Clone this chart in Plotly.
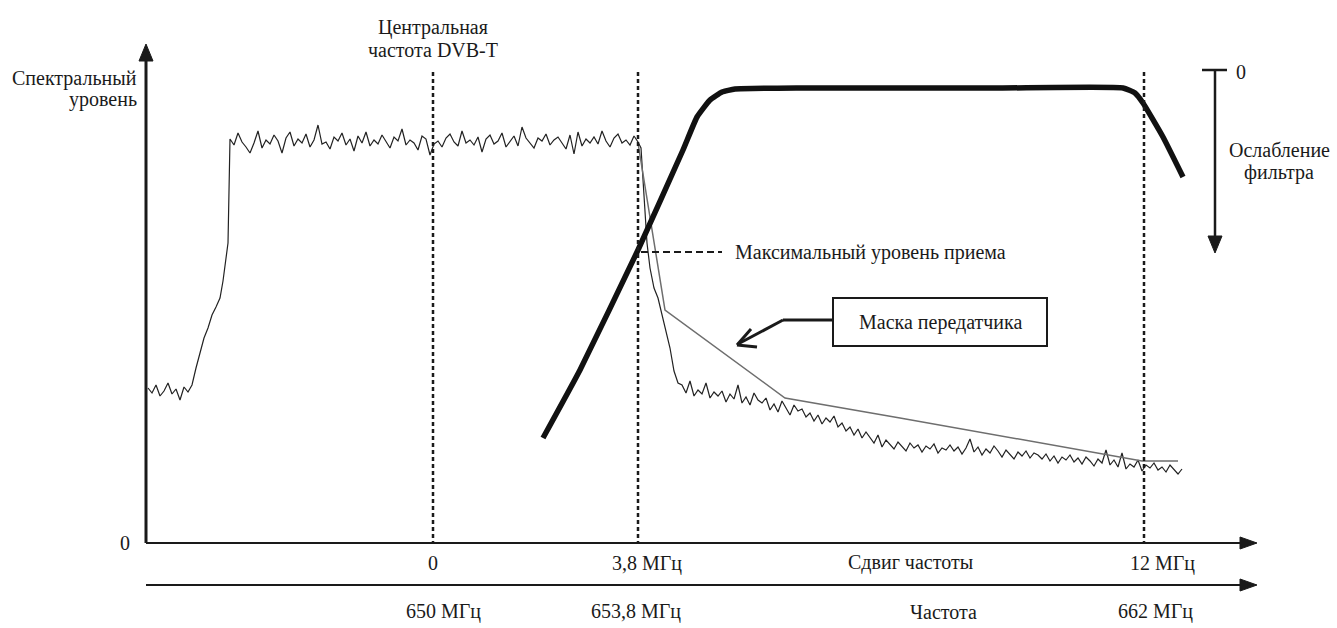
import plotly.graph_objects as go

# ---------------- data (chart units: x = frequency-offset scale, y = spectral level) -------------
# spectrum: low shoulder
spec_low_x = list(range(-285, -244, 4))
spec_low_y = [155, 150, 158, 147, 152, 160, 149, 154, 143, 156, 151]
# spectrum: rising edge
spec_rise_x = [-241, -237, -233, -229, -225, -221, -217, -213, -210, -207, -205]
spec_rise_y = [158, 175, 190, 205, 215, 228, 236, 245, 262, 285, 300]
# spectrum: flat in-band part
spec_flat_x = list(range(-203, 206, 4))
spec_flat_y = [404, 398, 410, 401, 396, 390, 400, 412, 395, 403,
               399, 408, 402, 390, 405, 411, 397, 404, 400, 409,
               396, 403, 418, 399, 401, 394, 406, 402, 410, 398,
               404, 392, 407, 400, 411, 397, 403, 399, 408, 401,
               395, 406, 402, 414, 398, 403, 400, 393, 407, 404,
               388, 399, 402, 396, 405, 409, 401, 397, 412, 400,
               403, 398, 406, 391, 404, 408, 399, 402, 410, 396,
               401, 407, 397, 416, 405, 400, 395, 405, 402, 409,
               398, 403, 406, 400, 394, 408, 389, 411, 397, 404,
               400, 406, 399, 412, 402, 396, 405, 409, 400, 403,
               398, 407, 401]
# spectrum: falling edge
spec_drop_x = [208, 211, 214, 217, 221, 225, 229, 233, 237, 241, 245]
spec_drop_y = [395, 350, 300, 275, 255, 245, 228, 212, 195, 172, 160]
# spectrum: out-of-band tail
spec_tail_x = list(range(249, 750, 4))
spec_tail_y = [158, 150, 162, 147, 153, 149, 160, 145, 151, 147,
               152, 141, 149, 144, 158, 140, 146, 138, 150, 143,
               140, 145, 133, 139, 131, 142, 135, 128, 138, 132,
               134, 126, 130, 122, 128, 119, 125, 121, 127, 116,
               120, 112, 116, 108, 114, 105, 111, 106, 100, 108,
               96, 103, 99, 94, 101, 97, 92, 100, 95, 98,
               91, 97, 94, 99, 90, 95, 93, 98, 92, 96,
               89, 95, 104, 91, 96, 88, 94, 90, 97, 92,
               86, 93, 89, 84, 91, 87, 92, 85, 90, 88,
               84, 89, 82, 87, 80, 86, 83, 88, 81, 85,
               79, 86, 82, 77, 84, 80, 93, 78, 83, 76,
               90, 74, 79, 76, 83, 72, 78, 75, 80, 73,
               76, 71, 78, 73, 69, 74]

# transmitter mask
mask_x = [205, 232, 352, 467, 709, 745]
mask_y = [400, 233, 145, 125, 82, 82]

# receive filter response
filter_x = [110, 147, 205, 250, 264, 277, 289, 302, 367, 567, 690, 702, 710, 730, 750]
filter_y = [105, 173, 293, 393, 426, 443, 451, 454, 455, 455, 455, 450, 440, 406, 366]

# tick labels
tick_pos = [0, 205, 711]
shift_labels = ["0", "3,8 МГц", "12 МГц"]
freq_labels = ["650 МГц", "653,8 МГц", "662 МГц"]
max_level = 291

# ---------------- helpers for layout placement (pixel -> chart units) ----------------
W, H = 1337, 628
OX, OY = 433, 543


def X(px):
    return px - OX


def Y(py):
    return OY - py


FONT = "Liberation Serif, Times New Roman, serif"
INK = "#1a1a1a"

fig = go.Figure()

spec_x = spec_low_x + spec_rise_x + spec_flat_x + spec_drop_x + spec_tail_x
spec_y = spec_low_y + spec_rise_y + spec_flat_y + spec_drop_y + spec_tail_y
fig.add_trace(go.Scatter(x=spec_x, y=spec_y, mode="lines",
                         line=dict(color="#222222", width=1.2), hoverinfo="skip"))
fig.add_trace(go.Scatter(x=mask_x, y=mask_y, mode="lines",
                         line=dict(color="#6e6e6e", width=1.5), hoverinfo="skip"))
fig.add_trace(go.Scatter(x=filter_x, y=filter_y, mode="lines",
                         line=dict(color="#111111", width=5.5, shape="spline", smoothing=0.4),
                         hoverinfo="skip"))

shapes = []


def line(p1, p2, width=2, dash="solid", color=INK):
    shapes.append(dict(type="line", xref="x", yref="y",
                       x0=X(p1[0]), y0=Y(p1[1]), x1=X(p2[0]), y1=Y(p2[1]),
                       line=dict(color=color, width=width, dash=dash)))


def tri(pts, color=INK):
    path = "M " + " L ".join(f"{X(a)},{Y(b)}" for a, b in pts) + " Z"
    shapes.append(dict(type="path", xref="x", yref="y", path=path,
                       fillcolor=color, line=dict(color=color, width=1)))


# y axis with arrow
line((146, 543), (146, 58), width=3)
tri([(146, 44), (139, 61), (153, 61)])
# two horizontal axes with arrows
for ay in (543, 585):
    line((146, ay), (1242, ay), width=2.2)
    tri([(1257, ay), (1240, ay - 6), (1240, ay + 6)])

# vertical dashed markers at tick positions
for tp in tick_pos:
    shapes.append(dict(type="line", xref="x", yref="y", x0=tp, x1=tp, y0=Y(72), y1=0,
                       line=dict(color=INK, width=2.5, dash="4px,3px")))

# max receive level dashed
shapes.append(dict(type="line", xref="x", yref="y", x0=X(641), x1=X(722),
                   y0=max_level, y1=max_level,
                   line=dict(color=INK, width=2, dash="7px,4px")))

# mask label box + arrow
shapes.append(dict(type="rect", xref="x", yref="y", x0=X(833), x1=X(1047), y0=Y(346), y1=Y(298),
                   line=dict(color=INK, width=2), fillcolor="rgba(0,0,0,0)"))
line((833, 320), (783, 320), width=3)
line((783, 320), (738, 344), width=3)
line((737, 345), (751, 329), width=3)
line((737, 345), (757, 347), width=3)

# filter attenuation arrow on right
line((1202, 70), (1227, 70), width=2.5)
line((1215, 70), (1215, 238), width=2.5)
tri([(1215, 253), (1208, 236), (1222, 236)])

fig.update_layout(shapes=shapes)

ann = []


def text(t, px, py, xa="center", size=20):
    ann.append(dict(text=t, x=X(px), y=Y(py), xref="x", yref="y", showarrow=False,
                    xanchor=xa, yanchor="middle", font=dict(family=FONT, size=size, color=INK)))


text("Спектральный", 139, 78, xa="right")
text("уровень", 139, 99, xa="right")
text("0", 125, 543)
text("Центральная", 433, 27)
text("частота DVB-T", 433, 50)
text("Максимальный уровень приема", 733, 252, xa="left")
text("Маска передатчика", 940, 322)
text("0", 1234, 72, xa="left")
text("Ослабление", 1279, 150)
text("фильтра", 1279, 172)

shift_centers = [433, 647, 1162]
freq_centers = [443, 636, 1155]
for lab, cx in zip(shift_labels, shift_centers):
    text(lab, cx, 563)
for lab, cx in zip(freq_labels, freq_centers):
    text(lab, cx, 611)
text("Сдвиг частоты", 910, 562)
text("Частота", 943, 612)

fig.update_layout(
    annotations=ann,
    width=W, height=H, autosize=False,
    margin=dict(l=0, r=0, t=0, b=0, pad=0),
    paper_bgcolor="white", plot_bgcolor="white",
    showlegend=False,
    xaxis=dict(range=[-OX, W - OX], visible=False, fixedrange=True),
    yaxis=dict(range=[OY - H, OY], visible=False, fixedrange=True),
)

fig.write_html("out.html", config={"displayModeBar": False},
               post_script="document.body.style.margin='0';document.body.style.overflow='hidden';")
